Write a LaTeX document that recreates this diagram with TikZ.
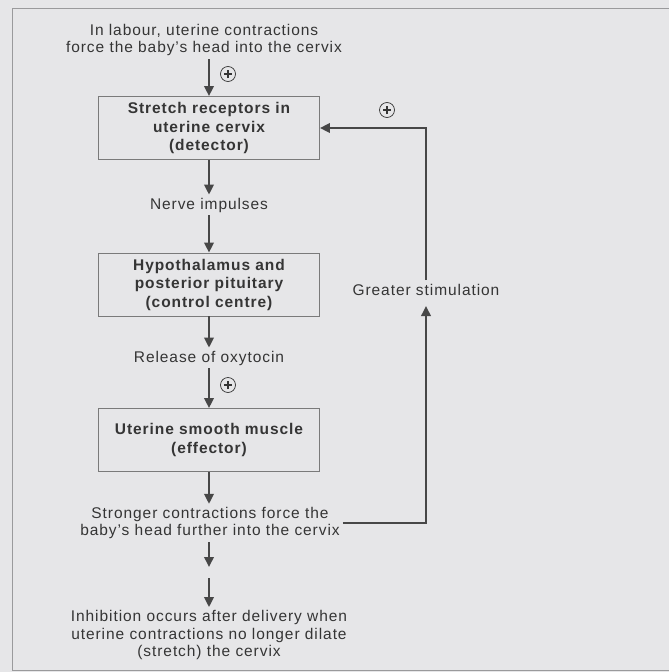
\documentclass[tikz,border=0pt]{standalone}
\usepackage{fontspec}
\setmainfont{Liberation Sans}[LetterSpace=6]
\usetikzlibrary{arrows.meta}
\definecolor{paper}{HTML}{E6E6E8}
\definecolor{ink}{HTML}{353535}
\definecolor{flowink}{HTML}{474747}
\definecolor{boxline}{HTML}{7A7A7A}
\definecolor{frameline}{HTML}{9A9A9C}
\begin{document}
\begin{tikzpicture}[x=1pt,y=-1pt,
  font=\fontsize{15.5}{17.5}\selectfont,
  txt/.style={align=center, text=ink, inner sep=3pt},
  stage/.style={draw=boxline, line width=0.9pt, minimum width=221pt,
    minimum height=63pt, align=center, text=ink, font=\fontsize{15.5}{18.5}\selectfont\bfseries},
  flow/.style={draw=flowink, line width=1.9pt, -{Triangle[width=9.5pt,length=10pt]}},
  plus/.style={circle, draw=ink, line width=0.7pt, inner sep=0pt, minimum size=15pt,
    path picture={\draw[ink, line width=1.2pt]
      ([xshift=-4pt]path picture bounding box.center) -- ([xshift=4pt]path picture bounding box.center)
      ([yshift=-4pt]path picture bounding box.center) -- ([yshift=4pt]path picture bounding box.center);}}]
  % page and frame
  \fill[paper] (0,0) rectangle (669,672);
  \useasboundingbox (0,0) rectangle (669,672);
  \draw[frameline, line width=0.8pt] (669,8) -- (12,8) -- (12,670) -- (669,670);

  % main chain
  \node[txt] (start) at (204,40) {In labour, uterine contractions\\force the baby's head into the cervix};
  \node[stage] (detector) at (209,128) {Stretch receptors in\\uterine cervix\\(detector)};
  \node[txt] (nerve) at (209,205) {Nerve impulses};
  \node[stage] (control) at (209,284.5) {Hypothalamus and\\posterior pituitary\\(control centre)};
  \node[txt] (oxy) at (209,358) {Release of oxytocin};
  \node[stage] (effector) at (209,440) {Uterine smooth muscle\\(effector)};
  \node[txt] (stronger) at (210,523) {Stronger contractions force the\\baby's head further into the cervix};
  \node[txt] (inhib) at (209,635) {Inhibition occurs after delivery when\\uterine contractions no longer dilate\\(stretch) the cervix};

  \coordinate (gapA) at (209,567);
  \coordinate (gapB) at (209,578);

  \draw[flow] (start.south -| detector) -- (detector);
  \draw[flow] (detector) -- (nerve);
  \draw[flow] (nerve) -- (control);
  \draw[flow] (control) -- (oxy);
  \draw[flow] (oxy) -- (effector);
  \draw[flow] (effector) -- (effector |- stronger.north);
  \draw[flow] (stronger.south -| gapA) -- (gapA);
  \draw[flow] (gapB) -- (inhib);

  % positive signs
  \node[plus] (p1) at (228,74) {};
  \node[plus] (p2) at (228,385) {};
  \node[plus] (p3) at (387,110) {};

  % feedback loop
  \node[txt] (greater) at (426,290) {Greater stimulation};
  \coordinate (loopTop) at (426,280);
  \coordinate (loopBot) at (426,306);
  \draw[flow] (stronger.east) -| (loopBot);
  \draw[flow] (loopTop) |- (detector.east);
\end{tikzpicture}
\end{document}
